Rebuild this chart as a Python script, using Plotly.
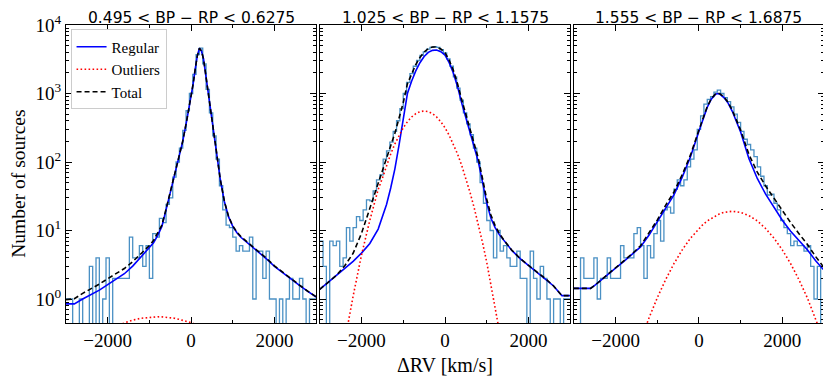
import numpy as np
import plotly.graph_objects as go

# histogram bins (km/s) shared by the three colour slices
BIN_EDGES = np.arange(-3000, 3001, 80)

TITLES = [
    "0.495 < BP \u2212 RP < 0.6275",
    "1.025 < BP \u2212 RP < 1.1575",
    "1.555 < BP \u2212 RP < 1.6875",
]

COUNTS_1 = [1, 1, 0, 0, 1, 0, 0, 3, 0, 4,
            0, 1, 4, 0, 2, 2, 2, 2, 2, 8,
            4, 4, 6, 3, 6, 2, 9, 8, 15, 13,
            24, 30, 60, 100, 160, 290, 560, 1000, 1900, 3700,
            4600, 2700, 1150, 520, 240, 110, 45, 20, 12, 11,
            8, 5, 6, 5, 5, 8, 1, 5, 5, 2,
            5, 1, 1, 0, 1, 0, 1, 2, 1, 1,
            2, 1, 0, 1, 1]
COUNTS_2 = [7, 3, 0, 7, 6, 7, 3, 4, 11, 7,
            11, 16, 14, 20, 28, 27, 38, 55, 65, 110,
            145, 195, 280, 400, 600, 1000, 1450, 1950, 2500, 3050,
            3600, 4050, 4450, 4700, 4850, 4700, 4350, 3900, 3200, 2500,
            1750, 1200, 800, 520, 360, 250, 160, 100, 50, 25,
            14, 10, 4, 10, 5, 6, 4, 3, 3, 5,
            2, 2, 0, 5, 2, 1, 3, 2, 1, 0,
            1, 1, 0, 1, 1]
COUNTS_3 = [0, 0, 4, 2, 2, 2, 4, 1, 2, 2,
            4, 2, 2, 2, 6, 4, 4, 4, 9, 11,
            6, 2, 6, 4, 9, 14, 7, 20, 22, 18,
            40, 55, 45, 55, 85, 110, 150, 300, 470, 700,
            820, 900, 1050, 1120, 1000, 870, 760, 640, 500, 380,
            280, 215, 180, 150, 120, 85, 62, 45, 33, 34,
            25, 20, 14, 11, 9, 6, 7, 6, 6, 5,
            6, 3, 1, 3, 0]

# model curves
X_1 = [-3000, -2800, -2600, -2400, -2200, -2000, -1800, -1600, -1400, -1200,
       -1000, -900, -800, -700, -600, -500, -400, -300, -200, -100,
       0, 50, 100, 150, 200, 250, 300, 350, 400, 500,
       600, 700, 800, 900, 1000, 1100, 1200, 1400, 1600, 1800,
       2000, 2200, 2400, 2600, 2800, 3000]
REGULAR_1 = [0.85, 0.85, 1.0, 1.15, 1.35, 1.62, 1.95, 2.34, 3.02, 4.07,
             5.5, 6.6, 8.5, 11.5, 20.0, 35.5, 63, 107, 200, 417,
             871, 1380, 2290, 3550, 4570, 4170, 3160, 1900, 1120, 447,
             166, 56, 26.3, 15.8, 11.5, 9.3, 7.9, 6.3, 5.0, 3.9,
             3.0, 2.4, 1.95, 1.58, 1.29, 1.07]
OUTLIER_1 = [0.126, 0.162, 0.205, 0.252, 0.302, 0.355, 0.405, 0.452, 0.492, 0.524,
             0.543, 0.548, 0.550, 0.548, 0.543, 0.535, 0.524, 0.508, 0.492, 0.472,
             0.452, 0.441, 0.430, 0.417, 0.405, 0.393, 0.380, 0.367, 0.354, 0.328,
             0.302, 0.277, 0.252, 0.228, 0.204, 0.183, 0.162, 0.126, 0.095, 0.070,
             0.050, 0.035, 0.024, 0.016, 0.011, 0.0068]
TOTAL_1 = [0.98, 1.01, 1.21, 1.40, 1.65, 1.98, 2.36, 2.79, 3.51, 4.59,
           6.04, 7.15, 9.05, 12.0, 20.5, 36.0, 63.5, 107.5, 200.5, 417.5,
           871.5, 1380, 2290, 3550, 4570, 4170, 3160, 1900, 1120, 447,
           166, 56.3, 26.6, 16.0, 11.7, 9.5, 8.1, 6.4, 5.1, 3.97,
           3.05, 2.44, 1.97, 1.60, 1.30, 1.08]

X_2 = [-3000, -2800, -2600, -2400, -2200, -2000, -1800, -1600, -1500, -1400,
       -1300, -1200, -1100, -1000, -900, -800, -700, -600, -500, -400,
       -300, -200, -100, 0, 100, 200, 300, 400, 500, 600,
       700, 800, 900, 1000, 1100, 1200, 1300, 1400, 1600, 1800,
       2000, 2200, 2400, 2600, 2800, 3000]
REGULAR_2 = [1.38, 1.74, 2.19, 2.82, 3.55, 4.68, 6.46, 10.5, 15.8, 24.0,
             41.7, 79.4, 178, 417, 1000, 1514, 2138, 2818, 3467, 3981,
             4266, 4315, 4074, 3631, 2818, 1995, 1259, 724, 437, 275,
             174, 100, 50, 25.1, 15.1, 11.0, 8.71, 7.24, 5.13, 3.89,
             3.09, 2.51, 2.0, 1.55, 1.12, 1.12]
OUTLIER_2 = [0.0004, 0.0035, 0.026, 0.24, 1.10, 4.37, 14.1, 39.8, 58, 89,
             131, 184, 246, 316, 387, 454, 508, 543, 556, 543,
             508, 454, 387, 316, 246, 184, 131, 89, 58, 35.9,
             21.3, 12.2, 6.6, 3.43, 1.70, 0.81, 0.37, 0.16, 0.026, 0.0035,
             0.0004, 3e-5, 2e-6, 1e-7, 1e-8, 1e-10]
TOTAL_2 = [1.38, 1.74, 2.22, 3.06, 4.65, 9.05, 20.6, 50.3, 73.8, 113,
           173, 263, 424, 733, 1387, 1968, 2646, 3361, 4023, 4524,
           4774, 4769, 4461, 3947, 3064, 2179, 1390, 813, 495, 311,
           195, 112, 56.6, 28.5, 16.8, 11.8, 9.08, 7.40, 5.16, 3.89,
           3.09, 2.51, 2.0, 1.55, 1.12, 1.12]

X_3 = [-3000, -2800, -2600, -2500, -2400, -2200, -2000, -1800, -1600, -1400,
       -1200, -1000, -800, -600, -400, -200, 0, 100, 200, 300,
       400, 450, 500, 600, 700, 800, 1000, 1200, 1400, 1600,
       1800, 2000, 2200, 2400, 2600, 2800, 3000]
REGULAR_3 = [1.43, 1.43, 1.43, 1.58, 1.78, 2.29, 2.82, 3.55, 4.47, 5.75,
             8.51, 13.2, 21.4, 33.1, 60.3, 120, 282, 417, 631, 832,
             977, 1000, 977, 871, 724, 550, 275, 112, 57.5, 33.9,
             21.4, 14.1, 9.77, 7.08, 5.25, 3.63, 2.63]
OUTLIER_3 = [4.5e-5, 1.7e-4, 5.9e-4, 0.00107, 0.00195, 0.0059, 0.0166, 0.0437, 0.107, 0.245,
             0.525, 1.04, 1.91, 3.28, 5.22, 7.76, 10.7, 12.3, 13.8, 15.1,
             16.5, 17.1, 17.6, 18.4, 18.9, 19.1, 18.4, 16.5, 13.8, 10.7,
             7.76, 5.22, 3.28, 1.91, 1.04, 0.525, 0.245]
TOTAL_3 = [1.43, 1.43, 1.43, 1.58, 1.78, 2.30, 2.84, 3.59, 4.58, 6.0,
           9.04, 14.2, 23.3, 36.4, 65.5, 128, 293, 429, 645, 847,
           994, 1017, 995, 889, 743, 569, 293, 128.5, 71.3, 44.6,
           29.2, 19.3, 13.05, 8.99, 6.29, 4.16, 2.88]

Y_TICKS = [1, 10, 100, 1000, 10000]
Y_TICKTEXT = ["10<sup>0</sup>", "10<sup>1</sup>", "10<sup>2</sup>", "10<sup>3</sup>", "10<sup>4</sup>"]

panels = [
    (COUNTS_1, X_1, REGULAR_1, OUTLIER_1, TOTAL_1),
    (COUNTS_2, X_2, REGULAR_2, OUTLIER_2, TOTAL_2),
    (COUNTS_3, X_3, REGULAR_3, OUTLIER_3, TOTAL_3),
]
domains = [[0.0, 0.33], [0.3347, 0.6653], [0.67, 1.0]]

SERIF = "Liberation Serif"
HIST_COLOR = "#4a90c4"

fig = go.Figure()

for i, (counts, xs, reg, out, tot) in enumerate(panels):
    xa = "x" if i == 0 else f"x{i + 1}"
    ya = "y" if i == 0 else f"y{i + 1}"
    first = i == 0
    # empty bins drop below the axis like matplotlib's step on a log scale
    hist_y = [c if c > 0 else 1e-3 for c in counts] + [counts[-1] if counts[-1] > 0 else 1e-3]
    fig.add_trace(go.Scatter(x=BIN_EDGES, y=hist_y, mode="lines", line_shape="hv",
                             line=dict(color=HIST_COLOR, width=1.3),
                             showlegend=False, hoverinfo="skip", xaxis=xa, yaxis=ya))
    fig.add_trace(go.Scatter(x=xs, y=reg, mode="lines", name="Regular",
                             line=dict(color="#0000ff", width=1.6),
                             showlegend=first, xaxis=xa, yaxis=ya))
    fig.add_trace(go.Scatter(x=xs, y=out, mode="lines", name="Outliers",
                             line=dict(color="#ff0000", width=1.6, dash="1.6px,2.4px"),
                             showlegend=first, xaxis=xa, yaxis=ya))
    fig.add_trace(go.Scatter(x=xs, y=tot, mode="lines", name="Total",
                             line=dict(color="#000000", width=1.6, dash="5px,3px"),
                             showlegend=first, xaxis=xa, yaxis=ya))

minor_y = [m * 10.0 ** e for e in range(-1, 4) for m in range(2, 10)]

# the page body adds an 8px offset, so the figure is drawn 8px smaller
layout = dict(
    width=823, height=372,
    margin=dict(l=58, r=7, t=17, b=57, autoexpand=False),
    plot_bgcolor="white", paper_bgcolor="white",
    showlegend=True,
    legend=dict(x=0.006, y=0.985, xanchor="left", yanchor="top",
                bgcolor="white", bordercolor="#cccccc", borderwidth=1,
                font=dict(family=SERIF, size=15, color="black"),
                tracegroupgap=0, itemwidth=30),
)

for i in range(3):
    xkey = "xaxis" if i == 0 else f"xaxis{i + 1}"
    ykey = "yaxis" if i == 0 else f"yaxis{i + 1}"
    anchor_y = "y" if i == 0 else f"y{i + 1}"
    anchor_x = "x" if i == 0 else f"x{i + 1}"
    layout[xkey] = dict(
        domain=domains[i], anchor=anchor_y, range=[-3000, 3000], automargin=False,
        tickmode="array", tickvals=[-2000, 0, 2000],
        ticks="inside", ticklen=6, tickwidth=1, tickcolor="black",
        minor=dict(tickvals=[-3000, -1000, 1000, 3000], ticks="inside", ticklen=3,
                   tickcolor="black", showgrid=False),
        showline=True, linecolor="black", linewidth=1, mirror="allticks",
        showgrid=False, zeroline=False,
        tickfont=dict(family=SERIF, size=19, color="black"),
    )
    layout[ykey] = dict(
        domain=[0, 1], anchor=anchor_x, type="log", range=[-0.35, 4.0], automargin=False,
        tickmode="array", tickvals=Y_TICKS, ticktext=Y_TICKTEXT,
        ticks="inside", ticklen=6, tickwidth=1, tickcolor="black",
        minor=dict(tickvals=minor_y, ticks="inside", ticklen=3,
                   tickcolor="black", showgrid=False),
        showline=True, linecolor="black", linewidth=1, mirror="allticks",
        showgrid=False, zeroline=False, showticklabels=(i == 0),
        tickfont=dict(family=SERIF, size=19, color="black"),
    )

annotations = []
for i, title in enumerate(TITLES):
    cx = (domains[i][0] + domains[i][1]) / 2
    annotations.append(dict(text=title, x=cx, y=1.0, xref="paper", yref="paper",
                            xanchor="center", yanchor="bottom", showarrow=False,
                            borderpad=0, yshift=-3,
                            font=dict(family="DejaVu Sans", size=15.5, color="black")))
annotations.append(dict(text="\u0394RV [km/s]", x=0.5, y=-0.14, xref="paper", yref="paper",
                        xanchor="center", yanchor="middle", showarrow=False,
                        font=dict(family=SERIF, size=20, color="black")))
annotations.append(dict(text="Number of sources", x=-0.0625, y=0.466, xref="paper", yref="paper",
                        xanchor="center", yanchor="middle", showarrow=False, textangle=-90,
                        borderpad=0, font=dict(family=SERIF, size=19.5, color="black")))
layout["annotations"] = annotations

fig.update_layout(**layout)
fig.write_html("out.html")
